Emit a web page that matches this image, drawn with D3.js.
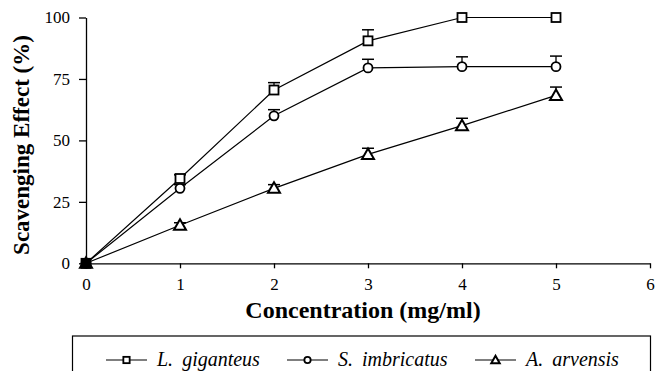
<!DOCTYPE html>
<html><head><meta charset="utf-8">
<script src="https://cdn.jsdelivr.net/npm/d3@7"></script>
<style>body{margin:0;background:#fff}svg{display:block}</style>
</head><body>
<script>
const concentrations = [0, 1, 2, 3, 4, 5];
const seriesNames = ["L. giganteus", "S. imbricatus", "A. arvensis"];
const giganteus = [0, 34.5, 70.5, 90.5, 100, 100];
const giganteusErr = [0, 1.5, 3, 4.5, 0, 0];
const imbricatus = [0, 30.5, 60, 79.5, 80, 80];
const imbricatusErr = [0, 1.5, 2.5, 3.5, 4, 4.3];
const arvensis = [0, 15.5, 30.5, 44.3, 56, 68.3];
const arvensisErr = [0, 1, 1.5, 2.5, 3, 3.4];
const xTicks = [0, 1, 2, 3, 4, 5, 6];
const yTicks = [0, 25, 50, 75, 100];
const symbols = ["square", "circle", "triangle"];

const W = 656, H = 371;
const FONT = "Liberation Serif";
const svg = d3.select("body").append("svg").attr("width", W).attr("height", H);
const x = d3.scaleLinear().domain([0, 6]).range([86, 650]);
const y = d3.scaleLinear().domain([0, 100]).range([263.3, 17.5]);

const gx = svg.append("g").attr("transform", `translate(0,${y(0)})`)
  .call(d3.axisBottom(x).tickValues(xTicks).tickSize(5).tickPadding(10).tickSizeOuter(0).tickFormat(d3.format("d")));
const gy = svg.append("g").attr("transform", `translate(${x(0)},0)`)
  .call(d3.axisLeft(y).tickValues(yTicks).tickSize(7).tickPadding(9).tickSizeOuter(0));
[gx, gy].forEach(g => {
  g.attr("font-family", FONT).attr("font-size", 17);
  g.selectAll("path,line").attr("stroke", "#000").attr("stroke-width", 1.3);
  g.selectAll("text").attr("font-family", FONT).attr("font-size", 17).attr("fill", "#000");
});

svg.append("text").attr("x", 363).attr("y", 318).attr("text-anchor", "middle")
  .attr("font-family", FONT).attr("font-weight", "bold").attr("font-size", 24)
  .text("Concentration (mg/ml)");
svg.append("text").attr("transform", "translate(29,145) rotate(-90)").attr("text-anchor", "middle")
  .attr("font-family", FONT).attr("font-weight", "bold").attr("font-size", 23)
  .text("Scavenging Effect (%)");

const data = [
  {name: seriesNames[0], vals: giganteus, err: giganteusErr, sym: symbols[0]},
  {name: seriesNames[1], vals: imbricatus, err: imbricatusErr, sym: symbols[1]},
  {name: seriesNames[2], vals: arvensis, err: arvensisErr, sym: symbols[2]}
];

function drawMarker(g, sym, cx, cy, scale) {
  const s = scale || 1;
  if (sym === "square") {
    g.append("rect").attr("x", cx - 4.5*s).attr("y", cy - 4.5*s).attr("width", 9*s).attr("height", 9*s)
      .attr("fill", "#fff").attr("stroke", "#000").attr("stroke-width", 1.8);
  } else if (sym === "circle") {
    g.append("circle").attr("cx", cx).attr("cy", cy).attr("r", 4.5*s)
      .attr("fill", "#fff").attr("stroke", "#000").attr("stroke-width", 1.8);
  } else {
    const h = 10*s, w = 6*s;
    g.append("path").attr("d", `M${cx},${cy - h*0.6}L${cx + w},${cy + h*0.45}L${cx - w},${cy + h*0.45}Z`)
      .attr("fill", "#fff").attr("stroke", "#000").attr("stroke-width", 2);
  }
}

const line = d3.line().x((d, i) => x(concentrations[i])).y(d => y(d));
data.forEach(s => {
  svg.append("path").attr("d", line(s.vals)).attr("fill", "none").attr("stroke", "#000").attr("stroke-width", 1.2);
});
data.forEach(s => {
  const g = svg.append("g");
  s.vals.forEach((v, i) => {
    const e = s.err[i];
    if (e > 0) {
      const cx = x(concentrations[i]);
      g.append("line").attr("x1", cx).attr("x2", cx).attr("y1", y(v)).attr("y2", y(v + e))
        .attr("stroke", "#000").attr("stroke-width", 1.3);
      g.append("line").attr("x1", cx - 6).attr("x2", cx + 6).attr("y1", y(v + e)).attr("y2", y(v + e))
        .attr("stroke", "#000").attr("stroke-width", 1.5);
    }
  });
  s.vals.forEach((v, i) => drawMarker(g, s.sym, x(concentrations[i]), y(v)));
});
svg.append("rect").attr("x", x(0) - 5).attr("y", y(0) - 5).attr("width", 10).attr("height", 10).attr("fill", "#000");

// legend
svg.append("rect").attr("x", 72.5).attr("y", 336).attr("width", 578).attr("height", 40)
  .attr("fill", "none").attr("stroke", "#000").attr("stroke-width", 1.2);
const legX = [106, 287, 475];
data.forEach((s, i) => {
  const lg = svg.append("g");
  const ly = 360;
  lg.append("line").attr("x1", legX[i]).attr("x2", legX[i] + 41).attr("y1", ly).attr("y2", ly)
    .attr("stroke", "#000").attr("stroke-width", 1.2);
  drawMarker(lg, s.sym, legX[i] + 20.5, ly, 0.7);
  const parts = s.name.split(" ");
  const t = lg.append("text").attr("x", legX[i] + 51).attr("y", ly + 6)
    .attr("font-family", FONT).attr("font-style", "italic").attr("font-size", 20);
  t.append("tspan").text(parts[0]);
  t.append("tspan").attr("dx", 9).text(parts[1]);
});
</script>
</body></html>
